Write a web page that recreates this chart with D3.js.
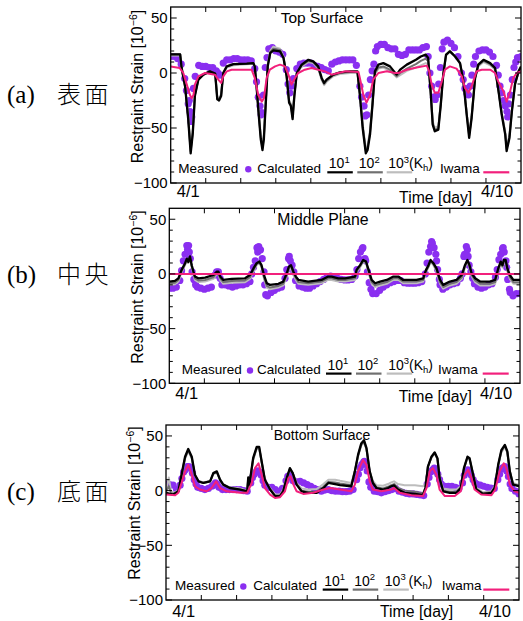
<!DOCTYPE html>
<html><head><meta charset="utf-8">
<script src="https://cdn.jsdelivr.net/npm/d3@7"></script>
<style>body{margin:0;background:#fff}svg{display:block}</style>
</head><body>
<svg id="chart" width="523" height="621"></svg>
<script>
// ---------------- DATA ----------------
const measStep = 0.1; // days between regular measured samples (t = 0 .. 10)
const xDomain = [0, 10];
const yDomain = [-100, 60];
const yMajorTicks = [50, 0, -50, -100];
const yTickLabels = ["50", "0", "\u221250", "\u2212100"];
const xMajorTicks = [1, 2, 3, 4, 5, 6, 7, 8, 9];
const dateLabels = ["4/1", "4/10"];
const dateLabelDays = [0.5, 9.32];
const panelTitles = ["Top Surface", "Middle Plane", "Bottom Surface"];
const sideTags = ["(a)", "(b)", "(c)"];
const sideNames = ["表面", "中央", "底面"];

// ---- Top surface ----
const topMeasured = [15,15,13,8,-5,-28,-40,-3,7,6,6,5,5,2,-2,9,12,12,13,13,12,12,12,11,4,-22,-36,5,22,23,20,19,17,3,-18,-5,4,8,9,9,9,7,6,5,3,2,8,10,11,12,12,12,12,7,-12,-30,-38,-6,8,24,26,26,23,22,22,17,16,17,21,21,21,21,23,24,0,-22,-20,5,28,30,27,23,15,0,-14,-20,-2,15,20,21,21,19,15,7,-12,-25,-35,-20,5,14,15];
// extra measured dots read around the rapid changes: [day, value]
const topMeasuredExtra = [[0.45,-16],[0.55,-35],[0.57,-44],[0.53,-25],[0.65,-14],[1.35,0],[2.45,-8],[2.55,-30],[2.58,-38],[2.65,-20],[2.75,14],[3.35,-10],[3.45,-12],[5.45,-22],[5.55,-39],[5.52,-30],[5.65,-20],[5.75,2],[5.85,20],[7.35,15],[7.45,-12],[7.55,-24],[7.65,-10],[7.75,22],[8.35,-6],[8.45,-18],[8.55,-12],[8.65,8],[9.35,-2],[9.45,-18],[9.55,-30],[9.62,-40],[9.65,-28],[9.75,-6],[9.85,10]];
const topCalc1 = [[0,17],[0.27,17],[0.31,5],[0.41,-12],[0.5,-42],[0.57,-73],[0.63,-55],[0.69,-21],[0.79,-6],[0.93,-1.5],[1.12,1.5],[1.27,-0.6],[1.33,-24],[1.38,-25],[1.44,-21],[1.5,0],[1.6,6],[1.79,8],[2.17,8.5],[2.36,9],[2.4,6],[2.45,-12],[2.5,-33],[2.57,-60],[2.62,-70],[2.66,-60],[2.72,-24],[2.77,6],[2.84,18],[2.93,20.6],[3.12,19.7],[3.22,13.6],[3.31,-3],[3.38,-27],[3.43,-30],[3.48,-42],[3.53,-21],[3.6,0],[3.74,7.6],[3.93,12],[4.07,10.6],[4.21,6],[4.31,-4.5],[4.38,-9],[4.45,-6],[4.64,-1.5],[4.83,0.6],[5.12,1.5],[5.33,1.5],[5.4,-20],[5.48,-50],[5.57,-73],[5.62,-70],[5.69,-56],[5.76,-29],[5.83,1.5],[5.93,7.6],[6.07,9],[6.26,6],[6.45,-1.5],[6.55,3],[6.74,7.6],[7.0,12],[7.14,15],[7.28,16.7],[7.35,13.6],[7.42,-17],[7.48,-47],[7.54,-53],[7.64,-51.5],[7.71,-29],[7.78,-1.5],[7.86,16.7],[7.97,19.7],[8.12,15],[8.26,9],[8.35,-6],[8.45,-38],[8.52,-59],[8.59,-41],[8.69,-4.5],[8.78,7.6],[8.93,12],[9.12,9],[9.26,4.5],[9.36,-17],[9.45,-38],[9.55,-56],[9.59,-71],[9.67,-59],[9.74,-35],[9.83,-10],[9.93,1.5],[10,6]];
const topCalc2 = [[0,17],[0.27,17],[0.31,5],[0.41,-12],[0.5,-41],[0.57,-71],[0.63,-54],[0.69,-20],[0.79,-6],[0.93,-1.5],[1.12,1.5],[1.27,-0.6],[1.33,-23],[1.38,-24],[1.44,-20],[1.5,0],[1.6,6],[1.79,8],[2.17,8.5],[2.36,9],[2.4,6],[2.45,-12],[2.5,-32],[2.57,-58],[2.62,-68],[2.66,-58],[2.72,-23],[2.77,7],[2.84,19],[2.93,22],[3.12,21],[3.22,14],[3.31,-3],[3.38,-26],[3.43,-29],[3.48,-40],[3.53,-20],[3.6,0],[3.74,7],[3.93,11],[4.07,10],[4.21,5],[4.31,-5.5],[4.38,-10],[4.45,-7],[4.64,-2],[4.83,0],[5.12,1],[5.33,1],[5.4,-19],[5.48,-48],[5.57,-71],[5.62,-68],[5.69,-54],[5.76,-28],[5.83,0],[5.93,5],[6.07,6],[6.26,3],[6.45,-3],[6.55,0],[6.74,4],[7.0,8],[7.14,11],[7.28,13],[7.35,11],[7.42,-17],[7.48,-46],[7.54,-52],[7.64,-50],[7.71,-28],[7.78,-1.5],[7.86,16],[7.97,19.7],[8.12,15],[8.26,9],[8.35,-6],[8.45,-37],[8.52,-57],[8.59,-40],[8.69,-4.5],[8.78,7],[8.93,11],[9.12,8],[9.26,4],[9.36,-17],[9.45,-37],[9.55,-55],[9.59,-69],[9.67,-58],[9.74,-34],[9.83,-10],[9.93,1],[10,5]];
const topCalc3 = [[0,16],[0.27,16],[0.31,4],[0.41,-12],[0.5,-40],[0.57,-69],[0.63,-53],[0.69,-20],[0.79,-6],[0.93,-2],[1.12,1],[1.27,-1],[1.33,-22],[1.38,-23],[1.44,-19],[1.5,0],[1.6,5],[1.79,7],[2.17,8],[2.36,8.5],[2.4,6],[2.45,-11],[2.5,-31],[2.57,-56],[2.62,-66],[2.66,-56],[2.72,-22],[2.77,8],[2.84,20],[2.93,24],[3.12,22],[3.22,15],[3.31,-2],[3.38,-25],[3.43,-28],[3.48,-38],[3.53,-19],[3.6,-1],[3.74,6],[3.93,10],[4.07,9],[4.21,4],[4.31,-6.5],[4.38,-11],[4.45,-8],[4.64,-3],[4.83,-1],[5.12,0],[5.33,0],[5.4,-18],[5.48,-46],[5.57,-69],[5.62,-66],[5.69,-52],[5.76,-27],[5.83,-1],[5.93,4],[6.07,5],[6.26,2],[6.45,-4],[6.55,-2],[6.74,2],[7.0,5],[7.14,7],[7.28,9],[7.35,8],[7.42,-16],[7.48,-44],[7.54,-50],[7.64,-48],[7.71,-27],[7.78,-1],[7.86,16],[7.97,20.5],[8.12,15],[8.26,8],[8.35,-6],[8.45,-36],[8.52,-55],[8.59,-39],[8.69,-4.5],[8.78,6],[8.93,10],[9.12,7],[9.26,3],[9.36,-16],[9.45,-36],[9.55,-53],[9.59,-67],[9.67,-56],[9.74,-33],[9.83,-10],[9.93,0],[10,4]];
const topIwama = [[0,6],[0.26,4.5],[0.36,0],[0.46,-10.6],[0.55,-20],[0.6,-23],[0.65,-20],[0.69,-10.6],[0.79,-3],[0.98,0],[1.26,-1.5],[1.36,-6],[1.44,-9],[1.5,-3],[1.6,1.5],[1.74,3],[2.31,3],[2.4,-4.5],[2.5,-20],[2.6,-26],[2.66,-23],[2.74,-4.5],[2.83,3],[2.98,6],[3.12,7.6],[3.26,6],[3.36,-1.5],[3.45,-10.6],[3.55,-4.5],[3.64,0],[3.83,3],[4.02,4.5],[4.21,3],[4.4,1.5],[4.6,-1.5],[4.78,0],[5.0,1.5],[5.36,1],[5.4,-4.5],[5.5,-20],[5.59,-27],[5.69,-20],[5.78,-6],[5.93,0],[6.17,1.5],[6.4,0],[6.5,0],[6.74,3],[7.02,5],[7.31,6.7],[7.38,1.5],[7.45,-10.6],[7.54,-18],[7.64,-18],[7.74,-7.6],[7.83,3],[7.97,6],[8.16,4],[8.31,-3],[8.4,-13.6],[8.5,-18],[8.59,-12],[8.73,1.5],[8.88,3],[9.12,3],[9.26,0],[9.35,-7.6],[9.5,-16.7],[9.59,-26],[9.69,-16.7],[9.78,-4.5],[9.88,0],[10,1.5]];

// ---- Middle plane ----
const midMeasured = [-13,-13,-12,-6,12,26,14,-5,-12,-13,-14,-13,-12,-1,2,-10,-10,-11,-12,-11,-10,-10,-9,-7,6,24,22,2,-20,-17,-15,-13,-12,-4,14,8,-6,-11,-12,-13,-13,-11,-9,-7,-5,-3,-2,-3,-4,-5,-5.5,-5.5,-5,-2,14,23,12,-8,-18,-18,-15,-12,-10,-8,-7,-6,-6,-8,-8.5,-8.5,-8.5,-8,-7,0,20,28,18,-5,-14,-12,-10,-9,-8,-4,16,22,2,-9,-12,-13,-12,-10,-9,-3,13,23,12,-14,-20,-18,-18];
const midMeasuredExtra = [[0.35,3],[0.45,18],[0.52,22],[0.55,26],[0.57,20],[0.65,2],[0.75,-10],[1.35,2],[1.45,-4],[2.35,0],[2.45,12],[2.52,20],[2.55,25],[2.58,22],[2.65,14],[2.72,-10],[2.75,-19],[3.35,4],[3.42,16],[3.45,12],[3.55,2],[5.35,4],[5.45,20],[5.52,24],[5.58,14],[5.65,2],[5.75,-14],[7.35,10],[7.45,25],[7.48,29.6],[7.55,24],[7.62,12],[7.65,4],[7.72,-10],[8.35,0],[8.42,18],[8.47,25],[8.52,16],[8.55,8],[8.65,-4],[9.35,4],[9.45,18],[9.52,24],[9.55,20],[9.62,6],[9.65,-5],[9.72,-17]];
const midCalc1 = [[0,-7],[0.16,-6.4],[0.26,-4],[0.35,3.7],[0.45,9.8],[0.5,14],[0.54,11],[0.59,16],[0.64,8],[0.69,2],[0.73,-2.4],[0.83,-4],[1.02,-3.4],[1.26,-1],[1.35,2],[1.4,2],[1.45,-2.4],[1.54,-5.5],[1.78,-4.6],[2.16,-4],[2.3,-1],[2.4,5],[2.49,9.8],[2.57,11.3],[2.63,8],[2.7,-1],[2.78,-8.5],[2.87,-10],[3.11,-9],[3.25,-7],[3.35,0.6],[3.41,6.7],[3.47,8],[3.54,2],[3.61,-2.4],[3.68,-5.5],[3.96,-7],[4.34,-5.5],[4.53,-2.4],[4.63,-2.4],[4.82,-4],[5.01,-4],[5.3,-2.4],[5.34,3.7],[5.44,8],[5.53,12.8],[5.61,11.3],[5.67,5],[5.77,-5.5],[5.87,-8.5],[6.01,-7],[6.2,-5.5],[6.39,-2.4],[6.53,-2.4],[6.67,-5.5],[7.05,-5.5],[7.24,-4],[7.32,3.7],[7.39,8],[7.45,12.8],[7.53,9.8],[7.62,5],[7.72,-5.5],[7.81,-10],[8.0,-7],[8.19,-5.5],[8.34,-1],[8.43,8],[8.5,12.8],[8.56,8],[8.62,0.6],[8.72,-4],[8.86,-7],[9.14,-7],[9.29,-5.5],[9.38,5],[9.45,11.3],[9.5,8],[9.54,12.8],[9.59,12.8],[9.64,5],[9.71,-1],[9.81,-5.5],[10,-5.5]];
const midCalc2 = [[0,-8.5],[0.16,-8],[0.26,-5.5],[0.35,2.5],[0.45,9],[0.5,13],[0.54,10.5],[0.59,15],[0.64,7],[0.69,0.5],[0.73,-4],[0.83,-6],[1.02,-5.5],[1.26,-3],[1.35,1],[1.4,1],[1.45,-4],[1.54,-7.5],[1.78,-6.5],[2.16,-6],[2.3,-3],[2.4,3.5],[2.49,9],[2.57,10.5],[2.63,7],[2.7,-3],[2.78,-11],[2.87,-12.5],[3.11,-11],[3.25,-9],[3.35,-1],[3.41,5.5],[3.47,7],[3.54,0.5],[3.61,-4],[3.68,-7.5],[3.96,-8.5],[4.34,-7],[4.53,-4],[4.63,-4],[4.82,-5.5],[5.01,-5.5],[5.3,-4],[5.34,2.5],[5.44,7],[5.53,12],[5.61,10.5],[5.67,3.5],[5.77,-7.5],[5.87,-10.5],[6.01,-9],[6.2,-7.5],[6.39,-4],[6.53,-4],[6.67,-7],[7.05,-7],[7.24,-5.5],[7.32,2.5],[7.39,7],[7.45,12],[7.53,9],[7.62,3.5],[7.72,-7.5],[7.81,-12],[8.0,-9],[8.19,-7.5],[8.34,-3],[8.43,7],[8.5,12],[8.56,7],[8.62,-1],[8.72,-6],[8.86,-9],[9.14,-9],[9.29,-7.5],[9.38,3.5],[9.45,10.5],[9.5,7],[9.54,12],[9.59,12],[9.64,3.5],[9.71,-3],[9.81,-7.5],[10,-7.5]];
const midCalc3 = [[0,-10],[0.16,-9.5],[0.26,-7],[0.35,1.5],[0.45,8],[0.5,12],[0.54,10],[0.59,14],[0.64,6],[0.69,-1],[0.73,-5.5],[0.83,-7.5],[1.02,-7],[1.26,-4.5],[1.35,0],[1.4,0],[1.45,-5.5],[1.54,-9],[1.78,-8],[2.16,-7.5],[2.3,-4.5],[2.4,2.5],[2.49,8],[2.57,10],[2.63,6],[2.7,-4.5],[2.78,-12.5],[2.87,-14],[3.11,-12.5],[3.25,-10.5],[3.35,-2],[3.41,4.5],[3.47,6],[3.54,-1],[3.61,-5.5],[3.68,-9],[3.96,-10],[4.34,-8.5],[4.53,-5.5],[4.63,-5.5],[4.82,-7],[5.01,-7],[5.3,-5.5],[5.34,1.5],[5.44,6],[5.53,11],[5.61,10],[5.67,2.5],[5.77,-9],[5.87,-12],[6.01,-10.5],[6.2,-9],[6.39,-5.5],[6.53,-5.5],[6.67,-8.5],[7.05,-8.5],[7.24,-7],[7.32,1.5],[7.39,6],[7.45,11],[7.53,8],[7.62,2.5],[7.72,-9],[7.81,-13.5],[8.0,-10.5],[8.19,-9],[8.34,-4.5],[8.43,6],[8.5,11],[8.56,6],[8.62,-2],[8.72,-7.5],[8.86,-10.5],[9.14,-10.5],[9.29,-9],[9.38,2.5],[9.45,10],[9.5,6],[9.54,11],[9.59,11],[9.64,2.5],[9.71,-4.5],[9.81,-9],[10,-9]];
const midIwama = [[0,0],[10,0]];

// ---- Bottom surface ----
const botMeasured = [6,5.5,5,1,5,17,22,21,10,3,2,1,2,4,7,3,1,1,1,1,1,1,0,-0.5,7,15,18,14,5,3,3,1,-1,2,9,14,9,8,8.5,7,5.5,4,2,1,-0.5,0.5,1,0,-0.5,-0.5,-1,-1,-0.5,1,10,21,26,18,3,-0.5,-1,-2,-1,0,1,2,-0.5,-1.5,-2.5,-3,-3,-3.5,-4,-4.5,6,17,20.6,15,6,4,4,4,3,2,7,17,18,10,6,5,4,3,2.4,2,10,20,22,13,2,-0.5,-3];
const botMeasuredExtra = [[0.45,11],[0.55,19],[0.65,22],[0.75,16],[0.85,6],[1.35,5],[1.45,6],[2.45,12],[2.55,17],[2.65,17],[2.75,9],[3.45,13],[3.55,12],[5.45,15],[5.55,24],[5.62,26.7],[5.65,24],[5.75,8],[7.45,12],[7.55,19],[7.65,18],[7.75,10],[8.45,14],[8.55,19],[8.65,14],[8.75,7],[9.45,15],[9.55,21],[9.65,18],[9.75,6]];
const botCalc1 = [[0,-2],[0.21,-3.6],[0.35,-0.6],[0.44,14.5],[0.54,31],[0.63,38],[0.73,31],[0.82,14.5],[0.92,8.5],[1.06,7],[1.25,8.5],[1.34,16],[1.44,17.6],[1.53,10],[1.62,5.5],[1.81,2.4],[2.1,1],[2.3,-0.6],[2.33,12],[2.36,5],[2.47,30],[2.57,40],[2.64,40],[2.71,26.7],[2.8,10],[2.95,1],[3.09,-5],[3.23,-5],[3.32,-0.6],[3.42,11.5],[3.51,20.6],[3.59,16],[3.7,5.5],[3.84,-0.6],[4.03,-2],[4.27,-2],[4.46,2.4],[4.6,7],[4.79,6],[4.93,5],[5.25,4],[5.35,17.6],[5.44,32.7],[5.53,43],[5.61,46],[5.68,38.8],[5.77,17.6],[5.86,7],[5.96,2.4],[6.15,1],[6.29,2.4],[6.38,4],[6.46,4.8],[6.57,1],[6.76,-2],[7.05,-3],[7.28,-4.2],[7.35,2.4],[7.42,22],[7.52,31],[7.61,35],[7.69,29.7],[7.75,11.5],[7.85,-0.6],[8.04,-2],[8.23,-2],[8.35,2.4],[8.44,20.6],[8.54,31],[8.6,29.7],[8.7,14.5],[8.79,1],[8.98,-3],[9.22,-2],[9.31,2.4],[9.41,23.6],[9.5,37],[9.6,41.8],[9.67,35.8],[9.74,17.6],[9.83,5.5],[10,4]];
const botCalc2 = [[0,-1],[0.08,4],[0.14,-2],[0.21,-3],[0.35,-0.6],[0.44,14],[0.54,30],[0.63,37],[0.73,30],[0.82,14],[0.92,8.5],[1.06,7],[1.25,8.5],[1.34,15.5],[1.44,17],[1.53,10],[1.62,5.5],[1.81,2.4],[2.1,1],[2.3,-0.6],[2.33,11],[2.36,5],[2.47,29],[2.57,39],[2.64,39],[2.71,26],[2.8,10],[2.95,1],[3.09,-4.5],[3.23,-4.5],[3.32,0],[3.42,11.5],[3.51,20],[3.59,16],[3.7,6],[3.84,0],[4.03,-1],[4.27,-1],[4.46,3.5],[4.6,8],[4.79,7.5],[4.93,6.5],[5.25,5],[5.35,17.6],[5.44,32],[5.53,42],[5.61,45],[5.68,38],[5.77,17.6],[5.86,7.5],[5.96,3],[6.15,2],[6.29,3.5],[6.38,5],[6.46,6],[6.57,2.5],[6.76,0],[7.05,-1],[7.28,-2.5],[7.35,3],[7.42,22],[7.52,30.5],[7.61,34.5],[7.69,29],[7.75,11.5],[7.85,0],[8.04,-1],[8.23,-1],[8.35,3],[8.44,20],[8.54,30.5],[8.6,29],[8.7,14.5],[8.79,1.5],[8.98,-2.5],[9.22,-1.5],[9.31,3],[9.41,23],[9.5,36],[9.6,41],[9.67,35],[9.74,17.6],[9.83,6],[10,4.5]];
const botCalc3 = [[0,0],[0.08,12],[0.14,0],[0.21,-2],[0.35,0],[0.44,13.5],[0.54,29],[0.63,36],[0.73,29.5],[0.82,14],[0.92,9],[1.06,7.5],[1.25,9],[1.34,15],[1.44,16.5],[1.53,10.5],[1.62,6],[1.81,3],[2.1,2],[2.3,0],[2.33,10],[2.36,6],[2.47,28],[2.57,38],[2.64,38],[2.71,26],[2.8,10.5],[2.95,2],[3.09,-3.5],[3.23,-3.5],[3.32,1],[3.42,12],[3.51,19.5],[3.59,16],[3.7,7],[3.84,2],[4.03,1],[4.27,1.5],[4.46,6],[4.6,10],[4.79,10],[4.93,9],[5.25,7],[5.35,18],[5.44,31],[5.53,41],[5.61,44],[5.68,37.5],[5.77,18],[5.86,9],[5.96,5],[6.15,4.5],[6.29,6],[6.38,7.5],[6.46,8.5],[6.57,6],[6.76,5],[7.05,5],[7.28,4],[7.35,6],[7.42,22],[7.52,30],[7.61,34],[7.69,29],[7.75,12.5],[7.85,2],[8.04,1],[8.23,1],[8.35,4],[8.44,20],[8.54,30],[8.6,28.5],[8.7,15],[8.79,2.5],[8.98,-1.5],[9.22,-0.5],[9.31,4],[9.41,22.5],[9.5,35],[9.6,40],[9.67,34.5],[9.74,18],[9.83,7],[10,5]];
const botIwama = [[0,-3.6],[0.26,-4.2],[0.35,-2],[0.44,7],[0.54,17.6],[0.63,23.6],[0.73,14.5],[0.82,4],[0.96,1],[1.15,-0.6],[1.29,2.4],[1.42,8.5],[1.53,2.4],[1.72,-0.6],[2.1,-2],[2.3,-2],[2.43,7],[2.52,20.6],[2.62,25],[2.71,14.5],[2.8,2.4],[2.95,-3.6],[3.09,-6.7],[3.23,-6],[3.37,-0.6],[3.47,11.5],[3.53,13],[3.61,5.5],[3.7,-0.6],[3.89,-3],[4.17,-2],[4.46,1],[4.65,2.4],[4.93,1],[5.25,-0.6],[5.35,5.5],[5.44,17.6],[5.58,28],[5.68,23.6],[5.77,8.5],[5.86,1],[6.1,-0.6],[6.38,1],[6.46,2.4],[6.62,-2],[6.95,-4.2],[7.28,-5],[7.38,2.4],[7.47,17.6],[7.56,20.6],[7.66,14.5],[7.75,1],[7.9,-5],[8.18,-5],[8.35,-0.6],[8.46,14.5],[8.56,19],[8.65,11.5],[8.74,1],[8.93,-3.6],[9.22,-4.2],[9.33,1],[9.45,17.6],[9.57,25],[9.64,20.6],[9.74,5.5],[9.88,-0.6],[10,-2]];

// ---------------- STYLE / LAYOUT ----------------
const C = {meas:"#8a2ff0", c1:"#000000", c2:"#707070", c3:"#bdbdbd", iw:"#f2207c"};
const SANS = "'Liberation Sans', Arial, Helvetica, sans-serif";

const panels = [
  {left:170.7,right:521,top:7,bottom:183, title:panelTitles[0], titleSize:15.5, titleDy:15.5, titleX:151.3,
   meas:topMeasured, extra:topMeasuredExtra, c1:topCalc1, c2:topCalc2, c3:topCalc3, iw:topIwama,
   tag:sideTags[0], name:sideNames[0], sideBase:102.5, yLabX:142.5, yLabY:86.5,
   leg:{m:7.6, dot:77.6, calc:86.6, l1:156.6, l2:186.6, l3:216, iw:269.3, pk:312.6, base:10.3, k3space:false},
   dateDy:14, timeT:7.565, timeDy:20},
  {left:169.3,right:520,top:208.3,bottom:383.3, title:panelTitles[1], titleSize:15.8, titleDy:16.5, titleX:153.7,
   meas:midMeasured, extra:midMeasuredExtra, c1:midCalc1, c2:midCalc2, c3:midCalc3, iw:midIwama,
   tag:sideTags[1], name:sideNames[1], sideBase:282.5, yLabX:143, yLabY:287,
   leg:{m:12.4, dot:80.7, calc:87.7, l1:156.7, l2:186.7, l3:217.4, iw:268.7, pk:313.4, base:9.3, k3space:false},
   dateDy:15.5, timeT:7.585, timeDy:18.7},
  {left:166,right:519,top:425,bottom:600, title:panelTitles[2], titleSize:14, titleDy:15, titleX:156,
   meas:botMeasured, extra:botMeasuredExtra, c1:botCalc1, c2:botCalc2, c3:botCalc3, iw:botIwama,
   tag:sideTags[2], name:sideNames[2], sideBase:500, yLabX:140, yLabY:503,
   leg:{m:9, dot:77.3, calc:87.3, l1:156.7, l2:186.7, l3:217.3, iw:275.7, pk:317.3, base:10, k3space:true},
   dateDy:16.5, timeT:7.10, timeDy:17.3}
];

const svg = d3.select("#chart");
svg.append("rect").attr("width",523).attr("height",621).attr("fill","#fff");

panels.forEach((p, pi) => {
  const x = d3.scaleLinear().domain(xDomain).range([p.left, p.right]);
  const y = d3.scaleLinear().domain(yDomain).range([p.bottom, p.top]);
  const g = svg.append("g");
  const clipId = "clip" + pi;
  svg.append("clipPath").attr("id", clipId).append("rect")
    .attr("x", p.left).attr("y", p.top).attr("width", p.right - p.left).attr("height", p.bottom - p.top);

  const plot = g.append("g").attr("clip-path", `url(#${clipId})`);
  // measured dots (regular samples + extra dots at rapid changes)
  const dots = p.meas.map((v,i)=>[i*measStep, v]).concat(p.extra);
  plot.selectAll("circle.m").data(dots).enter()
    .append("circle").attr("class","m")
    .attr("cx", d=>x(d[0])).attr("cy", d=>y(d[1])).attr("r", 3.6).attr("fill", C.meas);
  const line = d3.line().x(d=>x(d[0])).y(d=>y(d[1]));
  plot.append("path").attr("d", line(p.c3)).attr("fill","none").attr("stroke",C.c3).attr("stroke-width",2).attr("stroke-linejoin","round");
  plot.append("path").attr("d", line(p.c2)).attr("fill","none").attr("stroke",C.c2).attr("stroke-width",2).attr("stroke-linejoin","round");
  plot.append("path").attr("d", line(p.c1)).attr("fill","none").attr("stroke",C.c1).attr("stroke-width",2.3).attr("stroke-linejoin","round");
  plot.append("path").attr("d", line(p.iw)).attr("fill","none").attr("stroke",C.iw).attr("stroke-width",2).attr("stroke-linejoin","round");

  // axes (ticks inward, mirrored)
  const yMinor = d3.range(-90, 60, 10).filter(v => !yMajorTicks.includes(v));
  const ax = g.append("g").attr("stroke","#000").attr("stroke-width",1);
  yMajorTicks.forEach(v => {
    ax.append("line").attr("x1",p.left).attr("x2",p.left+6).attr("y1",y(v)).attr("y2",y(v));
    ax.append("line").attr("x1",p.right).attr("x2",p.right-6).attr("y1",y(v)).attr("y2",y(v));
  });
  yMinor.forEach(v => {
    ax.append("line").attr("x1",p.left).attr("x2",p.left+3.5).attr("y1",y(v)).attr("y2",y(v));
    ax.append("line").attr("x1",p.right).attr("x2",p.right-3.5).attr("y1",y(v)).attr("y2",y(v));
  });
  xMajorTicks.forEach(t => {
    ax.append("line").attr("x1",x(t)).attr("x2",x(t)).attr("y1",p.bottom).attr("y2",p.bottom-5);
    ax.append("line").attr("x1",x(t)).attr("x2",x(t)).attr("y1",p.top).attr("y2",p.top+5);
  });
  g.append("rect").attr("x",p.left).attr("y",p.top).attr("width",p.right-p.left).attr("height",p.bottom-p.top)
    .attr("fill","none").attr("stroke","#000").attr("stroke-width",1.3);

  // y tick labels
  yMajorTicks.forEach((v,i) => {
    g.append("text").attr("x", p.left-3).attr("y", y(v)).attr("dy","0.36em")
      .attr("text-anchor","end").attr("font-family",SANS).attr("font-size",15).text(yTickLabels[i]);
  });
  // date labels
  dateLabels.forEach((s,i) => {
    g.append("text").attr("x", x(dateLabelDays[i])).attr("y", p.bottom + p.dateDy)
      .attr("text-anchor","middle").attr("font-family",SANS).attr("font-size",16.5).text(s);
  });
  g.append("text").attr("x", x(p.timeT)).attr("y", p.bottom + p.timeDy)
    .attr("text-anchor","middle").attr("font-family",SANS).attr("font-size",15.8).text("Time [day]");

  // title
  g.append("text").attr("x", p.left + p.titleX).attr("y", p.top + p.titleDy)
    .attr("text-anchor","middle").attr("font-family",SANS).attr("font-size",p.titleSize).text(p.title);

  // y axis label
  const yl = g.append("text").attr("transform",`translate(${p.yLabX},${p.yLabY}) rotate(-90)`)
    .attr("text-anchor","middle").attr("font-family",SANS).attr("font-size",16);
  yl.append("tspan").text("Restraint Strain [10");
  yl.append("tspan").attr("dy",-6).attr("font-size",10.5).text("\u22126");
  yl.append("tspan").attr("dy",6).text("]");

  // side label
  g.append("text").attr("x",7).attr("y",p.sideBase).attr("font-family","'Liberation Serif','Times New Roman',serif")
    .attr("font-size",25).text(p.tag);
  g.append("text").attr("x",57).attr("y",p.sideBase).attr("font-family","'Noto Sans CJK JP','Noto Sans CJK SC',sans-serif")
    .attr("font-size",24).attr("letter-spacing",3.5).attr("font-weight",300).text(p.name);

  // legend
  const L = p.leg, lb = p.bottom - L.base, lineY = p.bottom - L.base - 1.9, supY = p.bottom - L.base - 4.4;
  const lt = (xx, yy, s, fs) => g.append("text").attr("x", p.left + xx).attr("y", yy)
      .attr("font-family",SANS).attr("font-size",fs||13.5).text(s);
  lt(L.m, lb, "Measured");
  g.append("circle").attr("cx", p.left + L.dot).attr("cy", lb - 3.5).attr("r",3.2).attr("fill",C.meas);
  lt(L.calc, lb, "Calculated");
  const pow = (xx, n, col, withK) => {
    g.append("line").attr("x1",p.left+xx).attr("x2",p.left+xx+25.5).attr("y1",lineY+1.5).attr("y2",lineY+1.5)
      .attr("stroke",col).attr("stroke-width",2.2);
    const t = g.append("text").attr("x",p.left+xx+1.5).attr("y",supY).attr("font-family",SANS).attr("font-size",14);
    t.append("tspan").text("10");
    t.append("tspan").attr("dy",-5.5).attr("font-size",9.5).text(n);
    if (withK) {
      t.append("tspan").attr("dy",5.5).text((L.k3space ? "\u2009" : "") + "(K");
      t.append("tspan").attr("dy",3).attr("font-size",9.5).text("h");
      t.append("tspan").attr("dy",-3).text(")");
    }
  };
  pow(L.l1, "1", C.c1, false);
  pow(L.l2, "2", C.c2, false);
  pow(L.l3, "3", C.c3, true);
  lt(L.iw, lb, "Iwama");
  g.append("line").attr("x1",p.left+L.pk).attr("x2",p.left+L.pk+26).attr("y1",lineY+1.5).attr("y2",lineY+1.5)
    .attr("stroke",C.iw).attr("stroke-width",2.2);
});
</script>
</body></html>
